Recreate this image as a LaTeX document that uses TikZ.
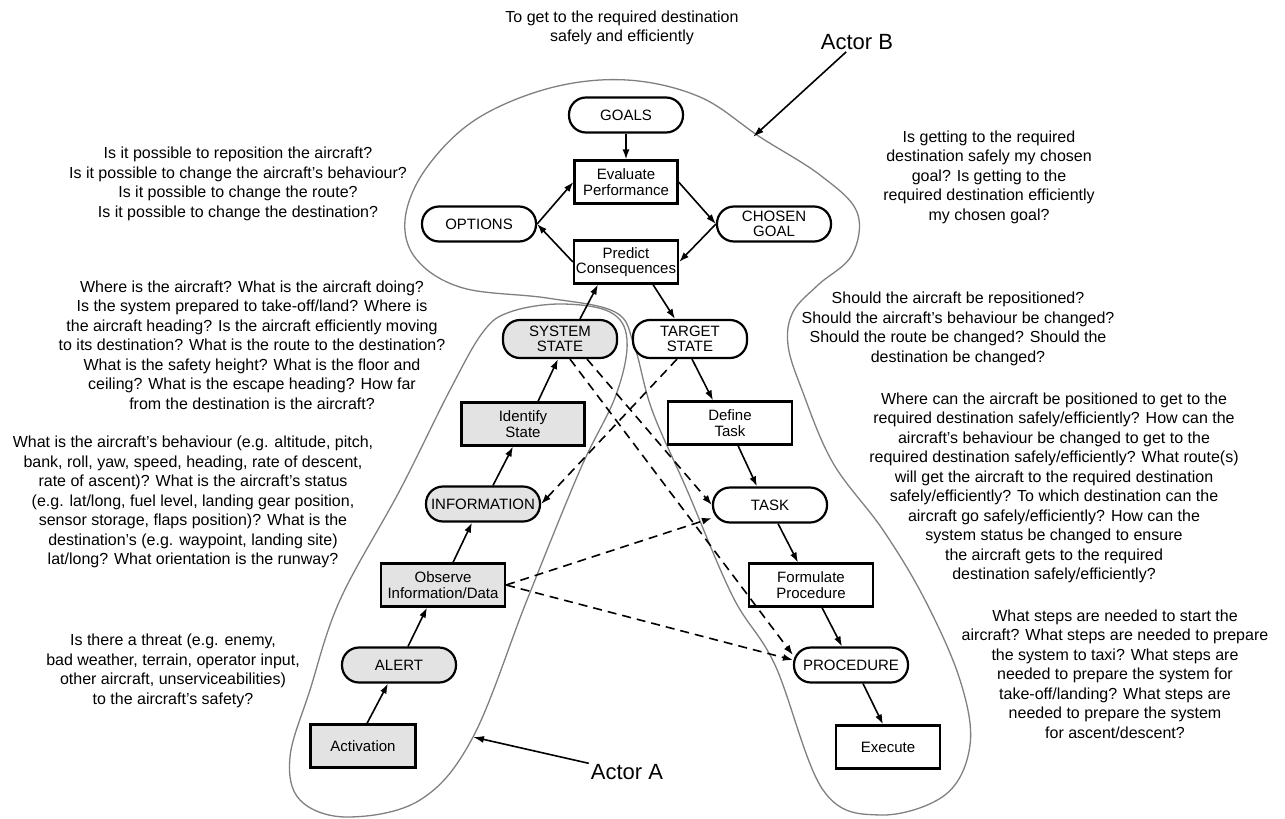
\documentclass[tikz,border=0pt]{standalone}
\usepackage{fontspec}
\setmainfont{Liberation Sans}
\usetikzlibrary{arrows.meta}
\begin{document}
\begin{tikzpicture}[x=1pt,y=-1pt,
  nodefont/.style={font=\fontsize{15}{15.5}\selectfont},
  box/.style={draw,line width=2.2pt,minimum height=43pt,inner sep=1pt,align=center,nodefont},
  pill/.style={draw,line width=2.2pt,rounded corners=17pt,minimum width=114pt,minimum height=35pt,inner sep=1pt,align=center,nodefont},
  shade/.style={fill=black!11},
  flow/.style={line width=1.6pt,-{Latex[length=10pt,width=7pt]}},
  link/.style={flow,dash pattern=on 9pt off 6pt},
  blob/.style={draw=black!50,line width=1.3pt},
  note/.style={align=center,inner sep=0pt,font=\fontsize{16}{19.5}\selectfont},
  actor/.style={inner sep=2pt,font=\fontsize{22}{26}\selectfont},
  pointer/.style={line width=1.6pt,-{Latex[length=11pt,width=7pt]}}]

\useasboundingbox (0,0) rectangle (1285,819);
\fill[white] (0,0) rectangle (1285,819);

% outline of actor B: decision lobe and execution arm
\draw[blob] plot[smooth cycle,tension=0.6] coordinates {
  (627,80) (700,97) (760,137) (820,175) (857,212) (852,255) (818,285)
  (793,312) (788,345) (802,390) (833,463) (883,530) (925,600) (960,680)
  (970,745) (945,795) (880,815) (823,790) (775,665) (733,597) (687,490)
  (652,410) (634,345) (615,312) (547,298) (463,288) (417,260) (405,220)
  (425,170) (475,120) (550,88)};

% outline of actor A: perception arm
\draw[blob] plot[smooth cycle,tension=0.6] coordinates {
  (483,332) (510,312) (560,304) (610,312) (627,340) (616,395) (580,470)
  (527,600) (473,737) (420,800) (347,817) (300,800) (290,757) (310,690)
  (340,600) (400,490) (450,390)};

% nodes
\node[pill] (goals) at (626,115) {GOALS};
\node[box,minimum width=103pt] (eval) at (626,182) {Evaluate\\Performance};
\node[pill] (opt) at (479,224) {OPTIONS};
\node[pill] (chosen) at (774,224) {CHOSEN\\GOAL};
\node[box,minimum width=104pt] (pred) at (626,262) {Predict\\Consequences};
\node[pill,shade,minimum height=38pt] (ss) at (560,339) {SYSTEM\\STATE};
\node[pill,minimum height=38pt] (ts) at (690,339) {TARGET\\STATE};
\node[box,shade,minimum width=123pt] (ident) at (523,424) {Identify\\State};
\node[box,minimum width=124pt] (def) at (730,423) {Define\\Task};
\node[pill,shade] (info) at (483,504) {INFORMATION};
\node[pill] (task) at (770,505) {TASK};
\node[box,shade,minimum width=124pt] (obs) at (443,585) {Observe\\Information/Data};
\node[box,minimum width=124pt] (form) at (811,585) {Formulate\\Procedure};
\node[pill,shade] (alert) at (399,665) {ALERT};
\node[pill] (proc) at (851,665) {PROCEDURE};
\node[box,shade,minimum width=105pt] (act) at (363,746) {Activation};
\node[box,minimum width=104pt] (exec) at (888,747) {Execute};

% solid flow
\draw[flow] (goals) -- (eval);
\draw[flow] (opt.east) -- (eval.west);
\draw[flow] (eval.east) -- (chosen.west);
\draw[flow] (chosen.west) -- (pred.east);
\draw[flow] (pred.west) -- (opt.east);
\draw[flow] ([xshift=20pt]ss.north) -- ([xshift=-28pt]pred.south);
\draw[flow] ([xshift=27pt]pred.south) -- ([xshift=-15pt]ts.north);
\draw[flow] ([xshift=4pt]act.north) -- ([xshift=-11pt]alert.south);
\draw[flow] ([xshift=9pt]alert.north) -- ([xshift=-16pt]obs.south);
\draw[flow] ([xshift=10pt]obs.north) -- ([xshift=-11pt]info.south);
\draw[flow] ([xshift=10pt]info.north) -- ([xshift=-10pt]ident.south);
\draw[flow] ([xshift=15pt]ident.north) -- ([xshift=-2pt]ss.south);
\draw[flow] ([xshift=2pt]ts.south) -- ([xshift=-17pt]def.north);
\draw[flow] ([xshift=8pt]def.south) -- ([xshift=-13pt]task.north);
\draw[flow] ([xshift=8pt]task.south) -- ([xshift=-13pt]form.north);
\draw[flow] ([xshift=11pt]form.south) -- ([xshift=-9pt]proc.north);
\draw[flow] ([xshift=12pt]proc.south) -- ([xshift=-5pt]exec.north);

% dashed shortcuts
\draw[link] ([xshift=27pt]ss.south) -- (task.west);
\draw[link] ([xshift=10pt]ss.south) -- ([yshift=10pt]proc.west);
\draw[link] ([xshift=-13pt]ts.south) -- (info.east);
\draw[link] (obs.east) -- ([yshift=-13pt]task.west);
\draw[link] (obs.east) -- ([yshift=5pt]proc.west);

% actor labels
\node[actor] (actB) at (857,42) {Actor B};
\coordinate (tipB) at (753,137);
\draw[pointer] (actB) -- (tipB);
\node[actor] (actA) at (627,772) {Actor A};
\coordinate (tipA) at (473,737);
\draw[pointer] (actA) -- (tipA);

% questions
\node[note] (q0) at (622,28) {To get to the required destination\\safely and efficiently};
\node[note] (q1) at (238,184) {Is it possible to reposition the aircraft?\\Is it possible to change the aircraft's behaviour?\\Is it possible to change the route?\\Is it possible to change the destination?};
\node[note] (q2) at (252,345) {Where is the aircraft? What is the aircraft doing?\\Is the system prepared to take-off/land? Where is\\the aircraft heading? Is the aircraft efficiently moving\\to its destination? What is the route to the destination?\\What is the safety height? What is the floor and\\ceiling? What is the escape heading? How far\\from the destination is the aircraft?};
\node[note] (q3) at (193,502) {What is the aircraft's behaviour (e.g. altitude, pitch,\\bank, roll, yaw, speed, heading, rate of descent,\\rate of ascent)? What is the aircraft's status\\(e.g. lat/long, fuel level, landing gear position,\\sensor storage, flaps position)? What is the\\destination's (e.g. waypoint, landing site)\\lat/long? What orientation is the runway?};
\node[note] (q4) at (173,671) {Is there a threat (e.g. enemy,\\bad weather, terrain, operator input,\\other aircraft, unserviceabilities)\\to the aircraft's safety?};
\node[note] (q5) at (989,177) {Is getting to the required\\destination safely my chosen\\goal? Is getting to the\\required destination efficiently\\my chosen goal?};
\node[note] (q6) at (958,329) {Should the aircraft be repositioned?\\Should the aircraft's behaviour be changed?\\Should the route be changed? Should the\\destination be changed?};
\node[note] (q7) at (1054,488) {Where can the aircraft be positioned to get to the\\required destination safely/efficiently? How can the\\aircraft's behaviour be changed to get to the\\required destination safely/efficiently? What route(s)\\will get the aircraft to the required destination\\safely/efficiently? To which destination can the\\aircraft go safely/efficiently? How can the\\system status be changed to ensure\\the aircraft gets to the required\\destination safely/efficiently?};
\node[note] (q8) at (1115,674) {What steps are needed to start the\\aircraft? What steps are needed to prepare\\the system to taxi? What steps are\\needed to prepare the system for\\take-off/landing? What steps are\\needed to prepare the system\\for ascent/descent?};
\end{tikzpicture}
\end{document}
